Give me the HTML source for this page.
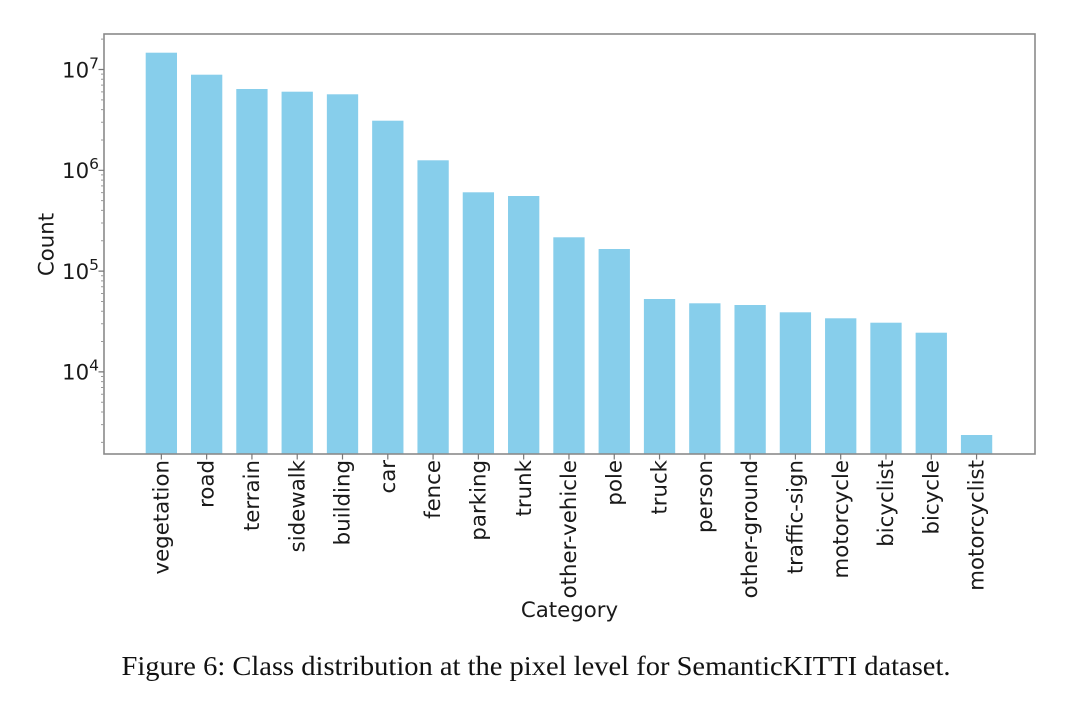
<!DOCTYPE html>
<html>
<head>
<meta charset="utf-8">
<style>
  html, body { margin: 0; padding: 0; background: #ffffff; }
  body { width: 1080px; height: 709px; overflow: hidden; }
  svg { display: block; }
  .tl { font-family: "DejaVu Sans", "Liberation Sans", sans-serif; font-size: 21.3px; fill: #1a1a1a; }
  .cap { font-family: "Liberation Serif", "DejaVu Serif", serif; font-size: 27px; fill: #111; }
</style>
</head>
<body>
<svg width="1080" height="709" viewBox="0 0 1080 709" xmlns="http://www.w3.org/2000/svg">
  <rect x="0" y="0" width="1080" height="709" fill="#ffffff"/>

  <!-- bars -->
  <g fill="#87CEEB">
    <rect x="145.70" y="52.7" width="31.3" height="401.3"/>
    <rect x="190.99" y="74.7" width="31.3" height="379.3"/>
    <rect x="236.28" y="89.0" width="31.3" height="365.0"/>
    <rect x="281.57" y="91.7" width="31.3" height="362.3"/>
    <rect x="326.86" y="94.3" width="31.3" height="359.7"/>
    <rect x="372.15" y="120.7" width="31.3" height="333.3"/>
    <rect x="417.44" y="160.3" width="31.3" height="293.7"/>
    <rect x="462.73" y="192.3" width="31.3" height="261.7"/>
    <rect x="508.02" y="196.0" width="31.3" height="258.0"/>
    <rect x="553.31" y="237.3" width="31.3" height="216.7"/>
    <rect x="598.60" y="249.0" width="31.3" height="205.0"/>
    <rect x="643.89" y="299.0" width="31.3" height="155.0"/>
    <rect x="689.18" y="303.3" width="31.3" height="150.7"/>
    <rect x="734.47" y="305.0" width="31.3" height="149.0"/>
    <rect x="779.76" y="312.3" width="31.3" height="141.7"/>
    <rect x="825.05" y="318.3" width="31.3" height="135.7"/>
    <rect x="870.34" y="322.7" width="31.3" height="131.3"/>
    <rect x="915.63" y="332.7" width="31.3" height="121.3"/>
    <rect x="960.92" y="435.0" width="31.3" height="19.0"/>
  </g>

  <!-- axes frame -->
  <rect x="104" y="34" width="931" height="420" fill="none" stroke="#8a8a8a" stroke-width="1.6"/>

  <!-- y major ticks -->
  <path d="M104 69.5 H98.5 M104 170.3 H98.5 M104 271.1 H98.5 M104 371.9 H98.5" stroke="#777" stroke-width="1.2"/>
  <!-- y minor ticks -->
  <path d="M104 442.36H101 M104 424.61H101 M104 412.01H101 M104 402.24H101 M104 394.26H101 M104 387.51H101 M104 381.67H101 M104 376.51H101
           M104 341.56H101 M104 323.81H101 M104 311.21H101 M104 301.44H101 M104 293.46H101 M104 286.71H101 M104 280.87H101 M104 275.71H101
           M104 240.76H101 M104 223.01H101 M104 210.41H101 M104 200.64H101 M104 192.66H101 M104 185.91H101 M104 180.07H101 M104 174.91H101
           M104 139.96H101 M104 122.21H101 M104 109.61H101 M104 99.84H101 M104 91.86H101 M104 85.11H101 M104 79.27H101 M104 74.11H101
           M104 39.16H101" stroke="#999" stroke-width="1"/>

  <!-- x ticks -->
  <path d="M161.35 454V459.5 M206.64 454V459.5 M251.93 454V459.5 M297.22 454V459.5 M342.51 454V459.5 M387.80 454V459.5 M433.09 454V459.5 M478.38 454V459.5 M523.67 454V459.5 M568.96 454V459.5 M614.25 454V459.5 M659.54 454V459.5 M704.83 454V459.5 M750.12 454V459.5 M795.41 454V459.5 M840.70 454V459.5 M885.99 454V459.5 M931.28 454V459.5 M976.57 454V459.5" stroke="#777" stroke-width="1.2"/>

  <!-- y tick labels -->
  <text class="tl" x="99" y="77.3" text-anchor="end" font-size="22">10<tspan font-size="15.5" dy="-9">7</tspan></text>
  <text class="tl" x="99" y="178.1" text-anchor="end" font-size="22">10<tspan font-size="15.5" dy="-9">6</tspan></text>
  <text class="tl" x="99" y="278.9" text-anchor="end" font-size="22">10<tspan font-size="15.5" dy="-9">5</tspan></text>
  <text class="tl" x="99" y="379.7" text-anchor="end" font-size="22">10<tspan font-size="15.5" dy="-9">4</tspan></text>

  <!-- x tick labels (rotated) -->
  <g class="tl" text-anchor="end">
    <text transform="translate(168.4,460) rotate(-90)">vegetation</text>
    <text transform="translate(213.7,460) rotate(-90)">road</text>
    <text transform="translate(259.0,460) rotate(-90)">terrain</text>
    <text transform="translate(304.3,460) rotate(-90)">sidewalk</text>
    <text transform="translate(349.6,460) rotate(-90)">building</text>
    <text transform="translate(394.9,460) rotate(-90)">car</text>
    <text transform="translate(440.2,460) rotate(-90)">fence</text>
    <text transform="translate(485.5,460) rotate(-90)">parking</text>
    <text transform="translate(530.8,460) rotate(-90)">trunk</text>
    <text transform="translate(576.1,460) rotate(-90)">other-vehicle</text>
    <text transform="translate(621.4,460) rotate(-90)">pole</text>
    <text transform="translate(666.6,460) rotate(-90)">truck</text>
    <text transform="translate(711.9,460) rotate(-90)">person</text>
    <text transform="translate(757.2,460) rotate(-90)">other-ground</text>
    <text transform="translate(802.5,460) rotate(-90)">traffic-sign</text>
    <text transform="translate(847.8,460) rotate(-90)">motorcycle</text>
    <text transform="translate(893.1,460) rotate(-90)">bicyclist</text>
    <text transform="translate(938.4,460) rotate(-90)">bicycle</text>
    <text transform="translate(983.7,460) rotate(-90)">motorcyclist</text>
  </g>

  <!-- axis labels -->
  <text class="tl" x="569.5" y="617" text-anchor="middle">Category</text>
  <text class="tl" transform="translate(53.5,244.5) rotate(-90)" text-anchor="middle">Count</text>

  <!-- caption -->
  <text class="cap" x="121.5" y="675" textLength="829" lengthAdjust="spacingAndGlyphs">Figure 6: Class distribution at the pixel level for SemanticKITTI dataset.</text>
</svg>
</body>
</html>
